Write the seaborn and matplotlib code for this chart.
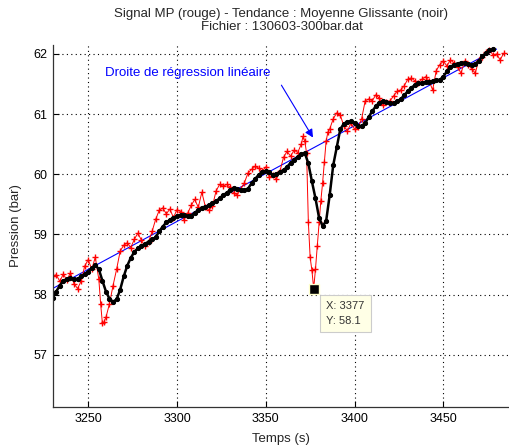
import numpy as np
import pandas as pd
import matplotlib
matplotlib.use("Agg")
import matplotlib.pyplot as plt
import seaborn as sns

# Signal MP (rouge)
red_t = [3230, 3232, 3234, 3236, 3238, 3240, 3242, 3244, 3246, 3248, 3250, 3252, 3254,
         3256, 3257, 3258, 3259, 3260, 3262, 3264, 3266, 3268, 3270, 3272, 3274, 3276,
         3278, 3280, 3282, 3284, 3286, 3288, 3290, 3292, 3294, 3296, 3298, 3300, 3302,
         3304, 3306, 3308, 3310, 3312, 3314, 3316, 3318, 3320, 3322, 3324, 3326, 3328,
         3330, 3332, 3334, 3336, 3338, 3340, 3342, 3344, 3346, 3348, 3350, 3352, 3354,
         3356, 3358, 3360, 3362, 3364, 3366, 3368, 3370, 3371, 3372, 3373, 3374, 3375,
         3376, 3377, 3378, 3379, 3380, 3381, 3382, 3383, 3384, 3385, 3386, 3388, 3390,
         3392, 3394, 3396, 3398, 3400, 3402, 3404, 3406, 3408, 3410, 3412, 3414, 3416,
         3418, 3420, 3422, 3424, 3426, 3428, 3430, 3432, 3434, 3436, 3438, 3440, 3442,
         3444, 3446, 3448, 3450, 3452, 3454, 3456, 3458, 3460, 3462, 3464, 3466, 3468,
         3470, 3472, 3474, 3476, 3478, 3480, 3482, 3484]
red_p = [58.30, 58.33, 58.22, 58.34, 58.24, 58.36, 58.18, 58.10, 58.22, 58.47, 58.58, 58.42, 58.62,
         58.25, 57.85, 57.52, 57.55, 57.62, 57.85, 58.15, 58.42, 58.72, 58.82, 58.86, 58.78, 58.92,
         59.02, 58.90, 58.80, 58.88, 59.05, 59.25, 59.40, 59.44, 59.34, 59.42, 59.28, 59.41, 59.38,
         59.24, 59.35, 59.48, 59.58, 59.45, 59.70, 59.46, 59.40, 59.47, 59.72, 59.83, 59.80, 59.83,
         59.78, 59.68, 59.66, 59.76, 59.86, 60.02, 60.08, 60.13, 60.10, 60.05, 60.12, 59.95, 59.98,
         59.92, 60.05, 60.28, 60.38, 60.30, 60.40, 60.36, 60.50, 60.63, 60.55, 60.35, 59.20, 58.62,
         58.40, 58.10, 58.42, 58.80, 59.20, 59.55, 59.85, 60.20, 60.55, 60.70, 60.75, 60.92, 61.02,
         60.98, 60.80, 60.72, 60.85, 60.75, 60.78, 60.92, 61.22, 61.25, 61.22, 61.32, 61.26, 61.15,
         61.20, 61.22, 61.30, 61.38, 61.40, 61.47, 61.58, 61.60, 61.55, 61.52, 61.58, 61.62, 61.55,
         61.40, 61.72, 61.82, 61.88, 61.80, 61.90, 61.85, 61.78, 61.68, 61.88, 61.82, 61.75, 61.68,
         61.90, 61.95, 62.03, 62.07, 61.98, 62.00, 61.90, 62.01]

# Moyenne glissante (noir)
black_t = list(range(3230, 3480, 2))
black_p = [57.95, 58.05, 58.15, 58.23, 58.26, 58.27, 58.25, 58.26, 58.30, 58.34, 58.38, 58.44,
           58.49, 58.42, 58.23, 58.05, 57.93, 57.88, 57.92, 58.08, 58.30, 58.48, 58.61, 58.71,
           58.77, 58.81, 58.84, 58.88, 58.92, 58.95, 59.05, 59.13, 59.20, 59.24, 59.27, 59.30,
           59.32, 59.32, 59.30, 59.31, 59.36, 59.40, 59.43, 59.46, 59.48, 59.52, 59.55, 59.60,
           59.65, 59.69, 59.74, 59.77, 59.76, 59.74, 59.73, 59.76, 59.85, 59.92, 59.99, 60.04,
           60.05, 60.03, 59.99, 60.00, 60.04, 60.07, 60.12, 60.19, 60.24, 60.29, 60.33, 60.35,
           60.18, 59.88, 59.60, 59.28, 59.14, 59.22, 59.65, 60.15, 60.45, 60.75, 60.84, 60.87,
           60.88, 60.85, 60.80, 60.80, 60.85, 60.95, 61.05, 61.13, 61.19, 61.21, 61.20, 61.18,
           61.18, 61.21, 61.25, 61.31, 61.38, 61.44, 61.48, 61.51, 61.52, 61.53, 61.54, 61.55,
           61.56, 61.57, 61.62, 61.71, 61.78, 61.82, 61.84, 61.85, 61.85, 61.84, 61.82, 61.84,
           61.88, 61.96, 62.02, 62.06, 62.08]

# Droite de regression lineaire (bleu)
reg_t = [3230, 3480]
reg_p = [58.10, 62.08]

tip_t, tip_p = 3377, 58.1

x_ticks = [3250, 3300, 3350, 3400, 3450]
y_ticks = [57, 58, 59, 60, 61, 62]

FS = 9.5

sns.set_style("ticks")
plt.rcParams["font.family"] = ["Liberation Sans", "DejaVu Sans"]
plt.rcParams["font.size"] = FS

fig = plt.figure(figsize=(5.09, 4.46), dpi=100)
ax = fig.add_axes([0.1035, 0.0874, 0.8965, 0.812])

sns.lineplot(x=reg_t, y=reg_p, ax=ax, color="blue", lw=0.8, estimator=None, sort=False)
sns.lineplot(x=red_t, y=red_p, ax=ax, color="red", lw=0.7, marker="+", markersize=5,
             markeredgewidth=1.0, markeredgecolor="red", estimator=None, sort=False)
sns.lineplot(x=black_t, y=black_p, ax=ax, color="black", lw=1.8, marker=".", markersize=6,
             markeredgecolor="black", estimator=None, sort=False)

ax.set_xlim(3230, 3487)
ax.set_ylim(56.13, 62.15)
ax.set_xticks(x_ticks)
ax.set_yticks(y_ticks)
ax.grid(True, color="black", linestyle=(0, (1, 3)), lw=0.8)
ax.tick_params(direction="in", length=4, width=0.8, colors="black", labelsize=FS - 0.5, pad=4)
for s in ["top", "right"]:
    ax.spines[s].set_visible(False)
for s in ["left", "bottom"]:
    ax.spines[s].set_color("#333333")
    ax.spines[s].set_linewidth(0.9)

ax.set_xlabel("Temps (s)", fontsize=FS, labelpad=6)
ax.set_ylabel("Pression (bar)", fontsize=FS, labelpad=8)
fig.text(0.553, 0.954, "Signal MP (rouge) - Tendance : Moyenne Glissante (noir)\nFichier : 130603-300bar.dat",
         fontsize=FS, ha="center", va="center", linespacing=1.05)

ax.text(3259.5, 61.69, "Droite de régression linéaire", color="blue", fontsize=FS,
        ha="left", va="center")
ax.annotate("", xy=(3377.4, 60.57), xytext=(3358, 61.52),
            arrowprops=dict(arrowstyle="-|>", color="blue", lw=0.8, mutation_scale=12))

# data tip
ax.plot([tip_t], [tip_p], marker="s", markersize=7, color="black",
        markeredgecolor="#ffffcc", markeredgewidth=1.0, zorder=5)
ax.annotate(f"X: {tip_t}\nY: {tip_p}", xy=(tip_t, tip_p), xytext=(9, -9),
            textcoords="offset points", ha="left", va="top", fontsize=FS - 1.5, color="#333333",
            linespacing=1.6,
            bbox=dict(boxstyle="square,pad=0.55", fc="#ffffe6", ec="#cccccc", lw=0.8))

fig.savefig("out.png", dpi=100)
